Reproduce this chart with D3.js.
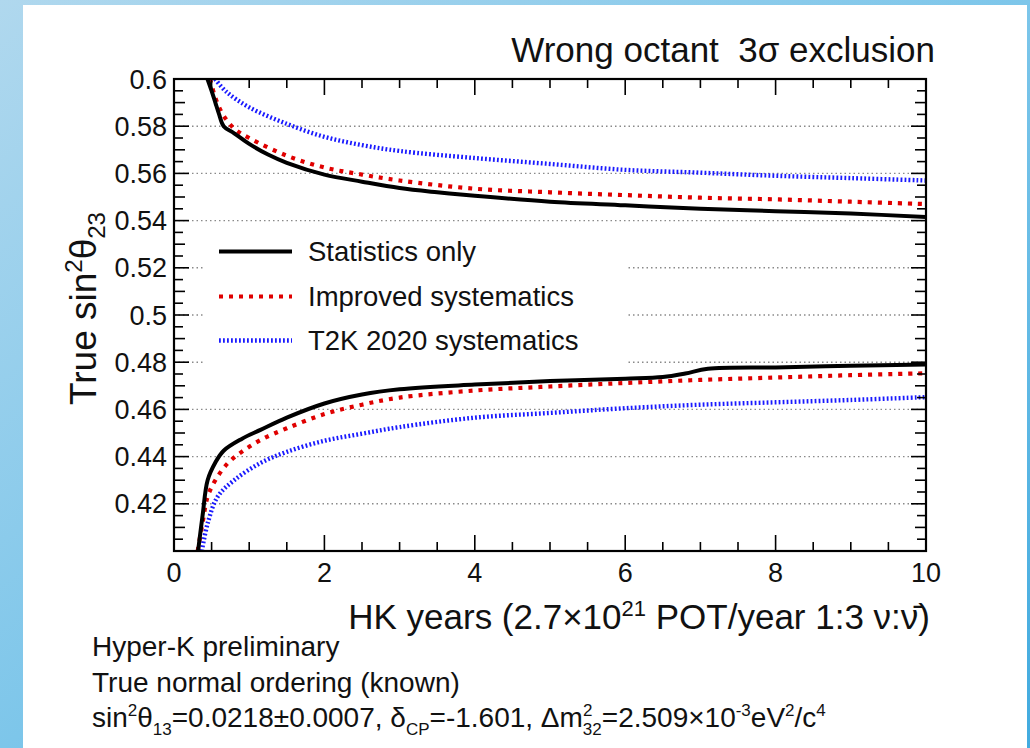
<!DOCTYPE html>
<html><head><meta charset="utf-8">
<script src="https://cdn.jsdelivr.net/npm/d3@7"></script>
<style>html,body{margin:0;padding:0;background:#fff;}svg{display:block;font-family:"Liberation Sans",Arial,sans-serif;}</style>
</head><body>
<svg id="chart" width="1030" height="748"></svg>
<script>
// ---- data ----
const xTicks = [0, 2, 4, 6, 8, 10];
const yTicks = [0.42, 0.44, 0.46, 0.48, 0.5, 0.52, 0.54, 0.56, 0.58, 0.6];
const yTickLabels = ["0.42", "0.44", "0.46", "0.48", "0.5", "0.52", "0.54", "0.56", "0.58", "0.6"];
const gridValues = [0.42, 0.44, 0.46, 0.48, 0.5, 0.52, 0.54, 0.56, 0.58];

const statUpX = [0.445, 0.5, 0.55, 0.6, 0.66, 0.8, 1.0, 1.25, 1.5, 2.0, 2.5, 3, 3.5, 4, 5, 6, 7, 8, 9, 10];
const statUpY = [0.600, 0.595, 0.590, 0.585, 0.580, 0.577, 0.5725, 0.568, 0.5645, 0.5595, 0.5565, 0.5538, 0.552, 0.5505, 0.548, 0.5465, 0.545, 0.544, 0.543, 0.5415];
const statLoX = [0.32, 0.38, 0.447, 0.55, 0.66, 0.9, 1.15, 1.5, 2, 2.5, 3, 4, 5, 6, 6.5, 6.8, 7.1, 8, 9, 10];
const statLoY = [0.400, 0.415, 0.430, 0.4375, 0.4425, 0.4475, 0.4513, 0.4565, 0.4625, 0.4663, 0.4685, 0.4705, 0.472, 0.473, 0.4737, 0.4752, 0.4772, 0.4778, 0.4785, 0.479];

const impUpX = [0.48, 0.55, 0.65, 0.8, 1.0, 1.5, 2, 2.5, 3, 4, 5, 6, 7, 8, 9, 10];
const impUpY = [0.600, 0.592, 0.585, 0.579, 0.575, 0.5675, 0.5625, 0.5595, 0.557, 0.5535, 0.552, 0.5508, 0.5497, 0.549, 0.548, 0.547];
const impLoX = [0.315, 0.38, 0.447, 0.55, 0.71, 0.9, 1.15, 1.5, 2, 2.5, 3, 4, 5, 6, 7, 8, 9, 10];
const impLoY = [0.400, 0.412, 0.423, 0.430, 0.437, 0.442, 0.447, 0.452, 0.458, 0.462, 0.465, 0.468, 0.4697, 0.4712, 0.4725, 0.4735, 0.4745, 0.4753];

const t2kUpX = [0.545, 0.7, 1.0, 1.5, 2, 2.5, 3, 4, 5, 6, 7, 8, 9, 10];
const t2kUpY = [0.600, 0.5945, 0.588, 0.581, 0.5755, 0.572, 0.5695, 0.5665, 0.564, 0.5615, 0.5603, 0.559, 0.558, 0.557];
const t2kLoX = [0.37, 0.45, 0.58, 0.8, 1.15, 1.5, 2, 2.5, 3, 4, 5, 6, 7, 8, 9, 10];
const t2kLoY = [0.400, 0.412, 0.423, 0.430, 0.4373, 0.442, 0.4467, 0.4497, 0.4525, 0.4565, 0.4585, 0.4605, 0.462, 0.463, 0.464, 0.4652];

const seriesNames = ["Statistics only", "Improved systematics", "T2K 2020 systematics"];

// ---- drawing ----
const svg = d3.select("#chart");
const defs = svg.append("defs");
const grad = defs.append("linearGradient").attr("id", "bg").attr("x1", "0").attr("y1", "0").attr("x2", "1").attr("y2", "1");
grad.append("stop").attr("offset", "0").attr("stop-color", "#b0d8ee");
grad.append("stop").attr("offset", "0.5").attr("stop-color", "#7dc6ea");
grad.append("stop").attr("offset", "1").attr("stop-color", "#42abdf");
svg.append("rect").attr("width", 1030).attr("height", 748).attr("fill", "url(#bg)");
svg.append("rect").attr("x", 23).attr("y", 5).attr("width", 1004).attr("height", 743).attr("fill", "#fff");

const L = 174, R = 926, T = 79, B = 551;
const x = d3.scaleLinear().domain([0, 10]).range([L, R]);
const y = d3.scaleLinear().domain([0.4, 0.6]).range([B, T]);

defs.append("clipPath").attr("id", "plotclip").append("rect")
  .attr("x", L).attr("y", T).attr("width", R - L).attr("height", B - T);

// grid
svg.append("g").selectAll("line").data(gridValues).join("line")
  .attr("x1", L).attr("x2", R).attr("y1", d => y(d)).attr("y2", d => y(d))
  .attr("stroke", "#8a8a8a").attr("stroke-width", 1.4).attr("stroke-dasharray", "1.5,3");

// legend background box (covers grid)
const legX = 204, legY = 229, legW = 424, legH = 138;
svg.append("rect").attr("x", legX).attr("y", legY).attr("width", legW).attr("height", legH).attr("fill", "#fff");

// curves
const zip = (a, b) => a.map((v, i) => [v, b[i]]);
const curves = svg.append("g").attr("clip-path", "url(#plotclip)");
const styles = [
  {color: "#000000", width: 4, dash: null},
  {color: "#e00000", width: 4.2, dash: "4,6"},
  {color: "#1a1aff", width: 4.4, dash: "1.8,2.2"}
];
const curveSets = [
  [zip(t2kUpX, t2kUpY), zip(t2kLoX, t2kLoY), 2],
  [zip(impUpX, impUpY), zip(impLoX, impLoY), 1],
  [zip(statUpX, statUpY), zip(statLoX, statLoY), 0]
];
curveSets.forEach(([up, lo, si]) => {
  const s = styles[si];
  [up, lo].forEach(pts => {
    curves.append("path").attr("d", d3.line().x(d => x(d[0])).y(d => y(d[1])).curve(d3.curveCatmullRom.alpha(0.5))(pts))
      .attr("fill", "none").attr("stroke", s.color).attr("stroke-width", s.width)
      .attr("stroke-dasharray", s.dash).attr("stroke-linejoin", "round");
  });
});

// axes frame and ticks
const axisG = svg.append("g").attr("stroke", "#000");
const xMinor = d3.range(0, 10.001, 0.5);
const yMinor = d3.range(0.4, 0.6001, 0.005);
function isMajorX(v) { return Math.abs(v / 2 - Math.round(v / 2)) < 1e-6; }
function isMajorY(v) { return Math.abs(v / 0.02 - Math.round(v / 0.02)) < 1e-6; }
function isMidY(v) { return Math.abs(v / 0.01 - Math.round(v / 0.01)) < 1e-6; }
xMinor.forEach(v => {
  const len = isMajorX(v) ? 16 : 9;
  axisG.append("line").attr("x1", x(v)).attr("x2", x(v)).attr("y1", B).attr("y2", B - len).attr("stroke-width", 1.6);
  axisG.append("line").attr("x1", x(v)).attr("x2", x(v)).attr("y1", T).attr("y2", T + len).attr("stroke-width", 1.6);
});
yMinor.forEach(v => {
  const len = isMajorY(v) ? 15 : (isMidY(v) ? 11 : 9);
  axisG.append("line").attr("x1", L).attr("x2", L + len).attr("y1", y(v)).attr("y2", y(v)).attr("stroke-width", 1.6);
  axisG.append("line").attr("x1", R).attr("x2", R - len).attr("y1", y(v)).attr("y2", y(v)).attr("stroke-width", 1.6);
});
svg.append("rect").attr("x", L).attr("y", T).attr("width", R - L).attr("height", B - T)
  .attr("fill", "none").attr("stroke", "#000").attr("stroke-width", 2.2);

// tick labels
svg.append("g").selectAll("text").data(xTicks).join("text")
  .attr("x", d => x(d)).attr("y", 582).attr("text-anchor", "middle")
  .attr("font-size", 27).attr("fill", "#111").text(d => d);
svg.append("g").selectAll("text").data(yTicks).join("text")
  .attr("x", 167).attr("y", d => y(d) + 9.5).attr("text-anchor", "end")
  .attr("font-size", 27).attr("fill", "#111").text((d, i) => yTickLabels[i]);

// legend
const legRows = [251.5, 296.5, 340.5];
seriesNames.forEach((name, i) => {
  const s = styles[i];
  svg.append("line").attr("x1", 219).attr("x2", 292).attr("y1", legRows[i]).attr("y2", legRows[i])
    .attr("stroke", s.color).attr("stroke-width", s.width).attr("stroke-dasharray", s.dash);
  svg.append("text").attr("x", 308).attr("y", legRows[i] + 9.5).attr("font-size", 27.5).attr("fill", "#111").text(name);
});

// title
svg.append("text").attr("x", 935).attr("y", 62).attr("text-anchor", "end").attr("font-size", 35).attr("fill", "#111")
  .text("Wrong octant\u00a0\u00a03σ exclusion");

// y axis label
const yl = svg.append("text").attr("transform", "translate(96,405) rotate(-90)").attr("font-size", 37).attr("fill", "#111");
yl.append("tspan").text("True sin");
yl.append("tspan").attr("dy", -14).attr("font-size", 24).text("2");
yl.append("tspan").attr("dy", 14).text("θ");
yl.append("tspan").attr("dy", 9).attr("font-size", 24).text("23");

// x axis label
const xl = svg.append("text").attr("x", 930).attr("y", 629).attr("text-anchor", "end").attr("font-size", 35).attr("fill", "#111");
xl.append("tspan").text("HK years (2.7×10");
xl.append("tspan").attr("dy", -13).attr("font-size", 22).text("21");
xl.append("tspan").attr("dy", 13).text(" POT/year 1:3 ν:ν\u0304)");

// bottom info text
const infoSize = 28;
svg.append("text").attr("x", 92).attr("y", 656).attr("font-size", infoSize).attr("fill", "#111").text("Hyper-K preliminary");
svg.append("text").attr("x", 92).attr("y", 692).attr("font-size", infoSize).attr("fill", "#111").text("True normal ordering (known)");
const info = svg.append("text").attr("x", 92).attr("y", 727).attr("font-size", infoSize).attr("fill", "#111");
info.append("tspan").text("sin");
info.append("tspan").attr("dy", -11).attr("font-size", 17).text("2");
info.append("tspan").attr("dy", 11).text("θ");
info.append("tspan").attr("dy", 8).attr("font-size", 17).text("13");
info.append("tspan").attr("dy", -8).text("=0.0218±0.0007, δ");
info.append("tspan").attr("dy", 8).attr("font-size", 17).text("CP");
info.append("tspan").attr("dy", -8).text("=-1.601, Δm");
info.append("tspan").attr("dy", -11).attr("font-size", 17).text("2");
info.append("tspan").attr("dx", -9.5).attr("dy", 19).attr("font-size", 17).text("32");
info.append("tspan").attr("dy", -8).text("=2.509×10");
info.append("tspan").attr("dy", -11).attr("font-size", 17).text("-3");
info.append("tspan").attr("dy", 11).text("eV");
info.append("tspan").attr("dy", -11).attr("font-size", 17).text("2");
info.append("tspan").attr("dy", 11).text("/c");
info.append("tspan").attr("dy", -11).attr("font-size", 17).text("4");
</script>
</body></html>
